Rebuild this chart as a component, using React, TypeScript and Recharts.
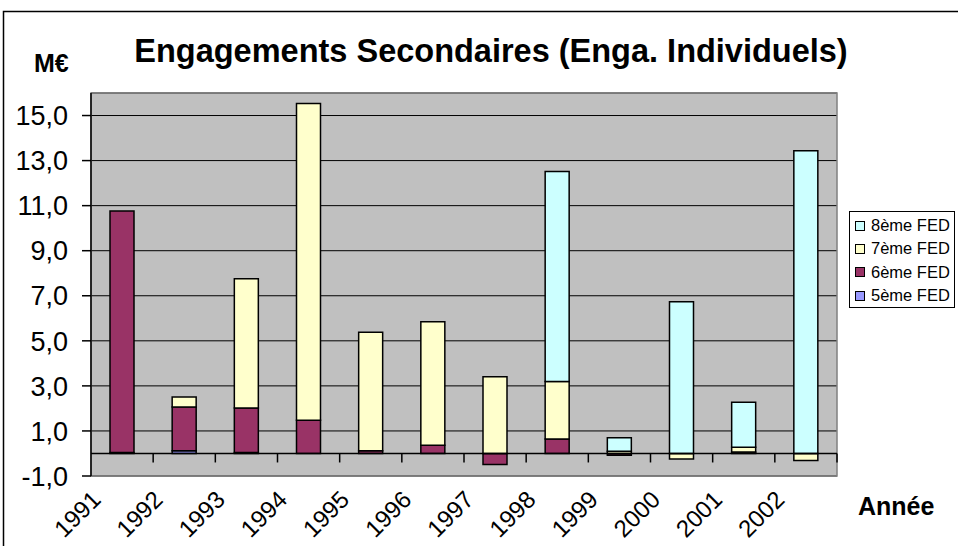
import React from "react";
import { BarChart, Bar, XAxis, YAxis, CartesianGrid, ReferenceLine, ReferenceArea } from "recharts";

const years = ["1991", "1992", "1993", "1994", "1995", "1996", "1997", "1998", "1999", "2000", "2001", "2002"];
const fed5 = [0.04, 0.12, 0.04, 0, 0, 0, 0, 0, 0, 0, 0, 0];
const fed6 = [10.72, 1.94, 1.98, 1.47, 0.12, 0.36, -0.49, 0.64, -0.08, 0, 0.06, 0];
const fed7 = [0, 0.45, 5.73, 14.06, 5.26, 5.49, 3.4, 2.56, 0.1, -0.25, 0.22, -0.31];
const fed8 = [0, 0, 0, 0, 0, 0, 0, 9.32, 0.6, 6.73, 1.99, 13.44];
const yTicks = [-1, 1, 3, 5, 7, 9, 11, 13, 15];

const series = [
  { key: "f5", name: "5ème FED", color: "#9999FF" },
  { key: "f6", name: "6ème FED", color: "#993366" },
  { key: "f7", name: "7ème FED", color: "#FFFFCC" },
  { key: "f8", name: "8ème FED", color: "#CCFFFF" },
];

const data = years.map((year, i) => ({ year, f5: fed5[i], f6: fed6[i], f7: fed7[i], f8: fed8[i] }));

const FONT = "'Liberation Sans', Arial, sans-serif";

const YearTick = ({ x, y, payload }: any) => (
  <text transform={`translate(${x - 20},${y + 17}) rotate(-45)`} textAnchor="end" fontSize={24} fontFamily={FONT} fill="#000">
    {payload.value}
  </text>
);

const ValueTick = ({ x, y, payload }: any) => (
  <text x={x} y={y} dy="0.36em" textAnchor="end" fontSize={27} fontFamily={FONT} fill="#000">
    {Number(payload.value).toFixed(1).replace(".", ",")}
  </text>
);

// zero line with small marks between categories, like the Excel category axis
const ZeroAxis = (props: any) => {
  const { x1, x2, y1 } = props;
  const step = (x2 - x1) / years.length;
  return (
    <g>
      <line x1={x1} x2={x2} y1={y1} y2={y1} stroke="#000" strokeWidth={1.5} />
      {years.map((_, i) => (
        <line key={i} x1={x1 + step * (i + 1)} x2={x1 + step * (i + 1)} y1={y1} y2={y1 + 9} stroke="#000" strokeWidth={1.5} />
      ))}
    </g>
  );
};

const LegendBox = () => (
  <div style={{ position: "absolute", left: 849, top: 211, width: 106, height: 97, border: "1px solid #000", background: "#fff", padding: "2px 0 0 5px", fontFamily: FONT, fontSize: 16.5, boxSizing: "border-box" }}>
    {[...series].reverse().map((s) => (
      <div key={s.key} style={{ display: "flex", alignItems: "center", height: 23.3 }}>
        <span style={{ width: 8, height: 8, background: s.color, border: "1px solid #000", marginRight: 6, display: "inline-block" }} />
        <span style={{ whiteSpace: "nowrap" }}>{s.name}</span>
      </div>
    ))}
  </div>
);

export default function App() {
  return (
    <div style={{ position: "absolute", left: 0, top: 0, width: 958, height: 546, background: "#fff", overflow: "hidden" }}>
      <BarChart width={958} height={546} data={data} stackOffset="sign" barSize={24} margin={{ top: 93, right: 121, bottom: 0, left: 0 }}>
        <CartesianGrid vertical={false} stroke="#000" fill="#C0C0C0" fillOpacity={1} />
        <XAxis dataKey="year" axisLine={false} tickLine={false} height={70} interval={0} tick={<YearTick />} />
        <YAxis
          domain={[-1, 16]}
          ticks={yTicks}
          width={91}
          allowDataOverflow
          axisLine={{ stroke: "#000", strokeWidth: 1.5 }}
          tickLine={{ stroke: "#000", strokeWidth: 1.5 }}
          tickSize={9}
          tickMargin={14}
          tick={<ValueTick />}
        />
        <ReferenceArea y1={-1} y2={16} fill="none" stroke="#808080" strokeWidth={1.5} ifOverflow="visible" />
        {series.map((s) => (
          <Bar key={s.key} dataKey={s.key} name={s.name} stackId="a" fill={s.color} stroke="#000" strokeWidth={1.5} isAnimationActive={false} />
        ))}
        <ReferenceLine y={0} shape={<ZeroAxis />} />
      </BarChart>
      <LegendBox />
      <svg width={958} height={546} style={{ position: "absolute", left: 0, top: 0, pointerEvents: "none" }}>
        <rect x={3.5} y={11.5} width={1000} height={600} fill="none" stroke="#000" strokeWidth={1.5} />
        <text x={491} y={62} textAnchor="middle" fontSize={32.5} fontWeight="bold" fontFamily={FONT}>
          Engagements Secondaires (Enga. Individuels)
        </text>
        <text x={34} y={72} fontSize={25} fontWeight="bold" fontFamily={FONT}>M€</text>
        <text x={858} y={515} fontSize={25} fontWeight="bold" fontFamily={FONT}>Année</text>
      </svg>
    </div>
  );
}
